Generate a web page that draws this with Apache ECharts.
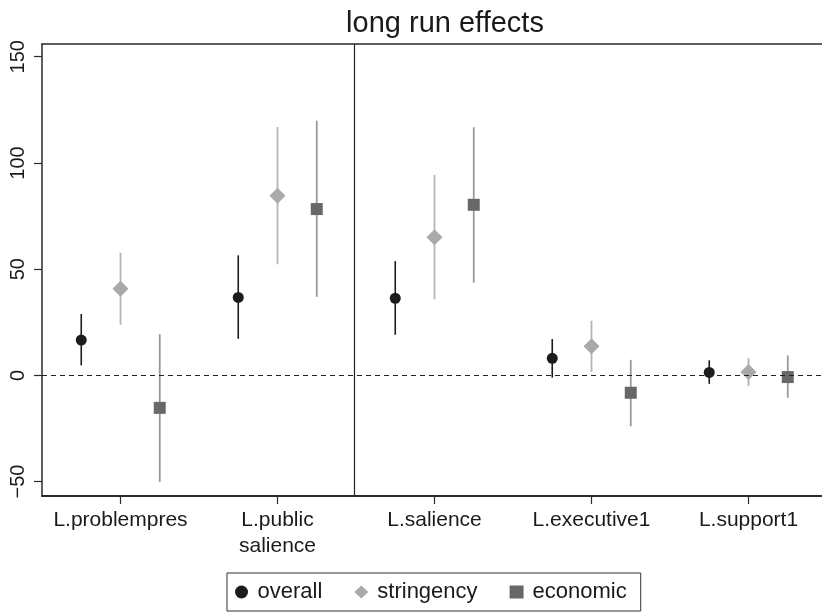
<!DOCTYPE html>
<html>
<head>
<meta charset="utf-8">
<script src="https://cdn.jsdelivr.net/npm/echarts@6/dist/echarts.min.js"></script>
<style>
    html, body { margin: 0; padding: 0; background: #fff; }
    #main { width: 822px; height: 613px; }
</style>
</head>
<body>
<div id="main"></div>
<script>
    // categories on the x axis
    const categories = ['L.problempres', 'L.public\nsalience', 'L.salience', 'L.executive1', 'L.support1'];
    const yTicks = [-50, 0, 50, 100, 150];

    // point estimates and confidence bounds
    const overallEst = [16.6, 36.7, 36.3, 8.0, 1.4];
    const overallLo = [4.7, 17.2, 19.1, -1.1, -4.0];
    const overallHi = [28.9, 56.5, 53.8, 17.1, 7.1];

    const stringencyEst = [40.8, 84.6, 65.0, 13.7, 1.6];
    const stringencyLo = [23.8, 52.3, 35.8, 1.6, -5.0];
    const stringencyHi = [57.7, 116.9, 94.4, 25.7, 8.1];

    const economicEst = [-15.3, 78.3, 80.3, -8.2, -0.8];
    const economicLo = [-50.2, 37.0, 43.6, -24.0, -10.5];
    const economicHi = [19.4, 119.9, 116.8, 7.3, 9.4];

    const font = 'Liberation Sans, Arial, Helvetica, sans-serif';

    function points(est, offset) {
        return est.map((v, i) => [i + 1 + offset, v]);
    }
    function ranges(lo, hi, offset) {
        return lo.map((v, i) => [i + 1 + offset, v, hi[i]]);
    }

    function ciSeries(name, lo, hi, offset, color, width) {
        return {
            name: name,
            type: 'custom',
            z: 2,
            silent: true,
            data: ranges(lo, hi, offset),
            encode: { x: 0, y: [1, 2] },
            renderItem: function (params, api) {
                const a = api.coord([api.value(0), api.value(1)]);
                const b = api.coord([api.value(0), api.value(2)]);
                return {
                    type: 'line',
                    shape: { x1: a[0], y1: a[1], x2: b[0], y2: b[1] },
                    style: { stroke: color, lineWidth: width }
                };
            }
        };
    }

    const chart = echarts.init(document.getElementById('main'));

    const xMin = 0.5;
    const xMax = 0.5 + 780 / 157;

    const option = {
        animation: false,
        backgroundColor: '#fff',
        title: {
            text: 'long run effects',
            left: 440,
            textAlign: 'center',
            top: 4,
            textStyle: { fontFamily: font, fontSize: 29, fontWeight: 'normal', color: '#1a1a1a' }
        },
        legend: {
            left: 227,
            top: 573,
            padding: [8, 14, 8, 8],
            borderColor: '#333',
            borderWidth: 1,
            borderRadius: 0,
            itemGap: 32,
            itemWidth: 14,
            itemHeight: 13,
            textStyle: { fontFamily: font, fontSize: 22, color: '#1a1a1a', padding: [0, 0, 0, 4] },
            data: [
                { name: 'overall', icon: 'circle' },
                { name: 'stringency', icon: 'diamond' },
                { name: 'economic', icon: 'rect' }
            ]
        },
        grid: {
            left: 42,
            top: 44,
            width: 780,
            height: 452,
            show: false,
            containLabel: false
        },
        xAxis: [
            {
                type: 'value',
                min: xMin,
                max: xMax,
                splitLine: { show: false },
                axisLine: { show: true, onZero: false, lineStyle: { color: '#2a2a2a', width: 2 } },
                axisTick: { show: true, length: 8, customValues: [1, 2, 3, 4, 5], lineStyle: { color: '#2a2a2a', width: 1.2 } },
                axisLabel: {
                    customValues: [1, 2, 3, 4, 5],
                    formatter: v => categories[Math.round(v) - 1],
                    margin: 11,
                    fontFamily: font,
                    fontSize: 21,
                    lineHeight: 26,
                    color: '#1a1a1a'
                }
            },
            {
                // top frame line of the plot region
                type: 'value',
                position: 'top',
                min: xMin,
                max: xMax,
                splitLine: { show: false },
                axisLine: { show: true, onZero: false, lineStyle: { color: '#2a2a2a', width: 1.5 } },
                axisTick: { show: false },
                axisLabel: { show: false }
            }
        ],
        yAxis: {
            type: 'value',
            min: -56.8,
            max: 156.0,
            splitLine: { show: false },
            axisLine: { show: true, onZero: false, lineStyle: { color: '#2a2a2a', width: 1.5 } },
            axisTick: { show: true, length: 8, customValues: yTicks, lineStyle: { color: '#2a2a2a', width: 1.2 } },
            axisLabel: {
                customValues: yTicks,
                rotate: 90,
                margin: 14,
                formatter: v => String(v).replace('-', '\u2212'),
                fontFamily: font,
                fontSize: 20,
                color: '#1a1a1a'
            }
        },
        series: [
            ciSeries('overall ci', overallLo, overallHi, -0.25, '#1c1c1c', 1.6),
            ciSeries('stringency ci', stringencyLo, stringencyHi, 0, '#b4b4b4', 1.8),
            ciSeries('economic ci', economicLo, economicHi, 0.25, '#9a9a9a', 1.8),
            {
                name: 'overall',
                type: 'scatter',
                z: 4,
                symbol: 'circle',
                symbolSize: 11,
                itemStyle: { color: '#1c1c1c', opacity: 1 },
                data: points(overallEst, -0.25),
                markLine: {
                    silent: true,
                    symbol: 'none',
                    label: { show: false },
                    data: [
                        { yAxis: 0, lineStyle: { type: [5, 4], color: '#222', width: 1.2 } },
                        { xAxis: 2.49, lineStyle: { type: 'solid', color: '#222', width: 1.2 } }
                    ]
                }
            },
            {
                name: 'stringency',
                type: 'scatter',
                z: 4,
                symbol: 'diamond',
                symbolSize: 16,
                itemStyle: { color: '#a9a9a9', opacity: 1 },
                data: points(stringencyEst, 0)
            },
            {
                name: 'economic',
                type: 'scatter',
                z: 4,
                symbol: 'rect',
                symbolSize: 12,
                itemStyle: { color: '#686868', opacity: 1 },
                data: points(economicEst, 0.25)
            }
        ]
    };

    chart.setOption(option);
</script>
</body>
</html>
